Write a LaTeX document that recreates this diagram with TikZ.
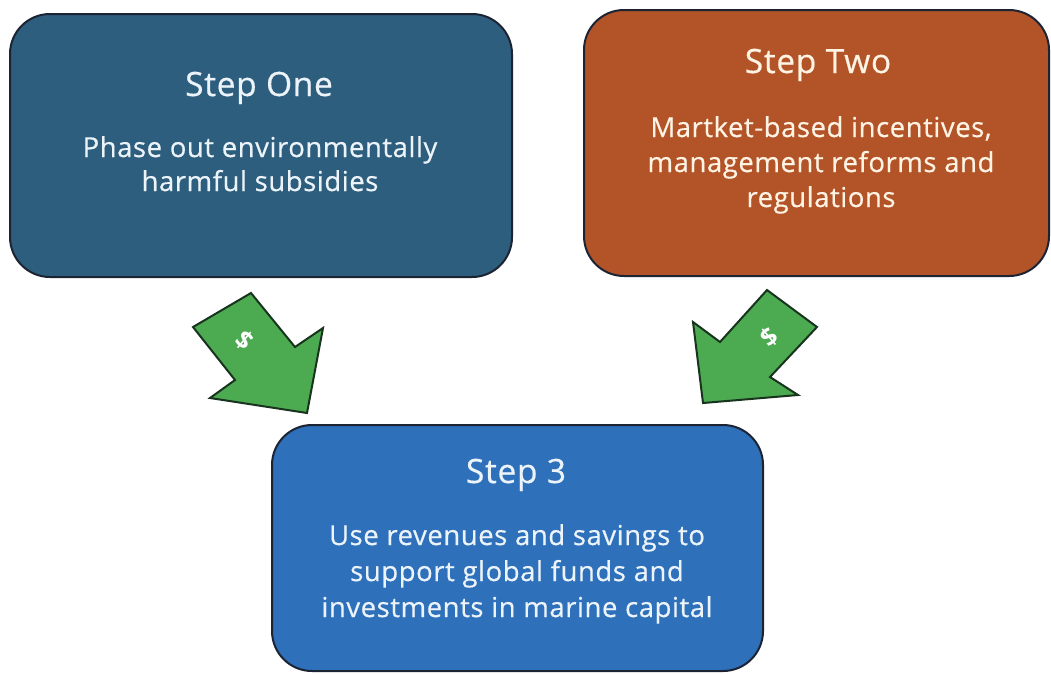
\documentclass[tikz,border=0pt]{standalone}
\usepackage{fontspec}
\setmainfont{Open Sans}
\definecolor{boxone}{RGB}{46,94,125}
\definecolor{boxtwo}{RGB}{178,84,40}
\definecolor{boxthree}{RGB}{46,112,186}
\definecolor{edgecol}{RGB}{28,36,52}
\definecolor{arrgreen}{RGB}{76,170,80}
\definecolor{arredge}{RGB}{24,52,30}
\definecolor{txtblue}{RGB}{236,244,250}
\definecolor{txtcream}{RGB}{255,243,228}
\newfontfamily\titlefont[LetterSpace=2,FakeBold=0.5]{Open Sans}
\newfontfamily\bodyfont[LetterSpace=2,FakeBold=0.5]{Open Sans}
\tikzset{
  stepbox/.style={draw=edgecol, line width=2pt, rounded corners=40pt, inner sep=0pt},
  titletext/.style={font=\titlefont\fontsize{33.5}{36}\selectfont, inner sep=0pt, anchor=base},
  bodytext/.style={font=\bodyfont\fontsize{27.5}{35}\selectfont, inner sep=0pt, anchor=base},
  blockarrow/.style={draw=arredge, fill=arrgreen, line width=2pt, line join=miter},
  dollar/.style={font=\bfseries\fontsize{25}{25}\selectfont, text=white, inner sep=0pt}
}
\begin{document}
\begin{tikzpicture}[x=1pt,y=-1pt]
\useasboundingbox (0,0) rectangle (1051,673);
% boxes
\node[stepbox, fill=boxone, minimum width=502pt, minimum height=263pt] (b1) at (261,145.5) {};
\node[stepbox, fill=boxtwo, minimum width=465pt, minimum height=266pt] (b2) at (816.5,143) {};
\node[stepbox, fill=boxthree, minimum width=491pt, minimum height=246pt] (b3) at (517.5,548) {};
% texts box 1
\node[titletext, text=txtblue] (t1) at (259,96) {Step One};
\node[bodytext, text=txtblue] (d1a) at (260,157) {Phase out environmentally};
\node[bodytext, text=txtblue] (d1b) at (260,191) {harmful subsidies};
% texts box 2
\node[titletext, text=txtcream] (t2) at (818,73) {Step Two};
\node[bodytext, text=txtcream] (d2a) at (821,137) {Martket-based incentives,};
\node[bodytext, text=txtcream] (d2b) at (821,172) {management reforms and};
\node[bodytext, text=txtcream] (d2c) at (821,207) {regulations};
% texts box 3
\node[titletext, text=txtblue] (t3) at (516,483) {Step 3};
\node[bodytext, text=txtblue] (d3a) at (517,545) {Use revenues and savings to};
\node[bodytext, text=txtblue] (d3b) at (517,581) {support global funds and};
\node[bodytext, text=txtblue] (d3c) at (517,617) {investments in marine capital};
% block arrows
\draw[blockarrow] (193,327) -- (251,293) -- (295,347) -- (323,328) -- (307,413) -- (210,398) -- (235,380) -- cycle;
\node[dollar, rotate=-40] (s1) at (245,340) {\$};
\draw[blockarrow] (767,290) -- (817,327) -- (770,377) -- (798,395) -- (703,403) -- (693,322) -- (720,342) -- cycle;
\node[dollar, rotate=40] (s2) at (769,337) {\$};
\end{tikzpicture}
\end{document}
